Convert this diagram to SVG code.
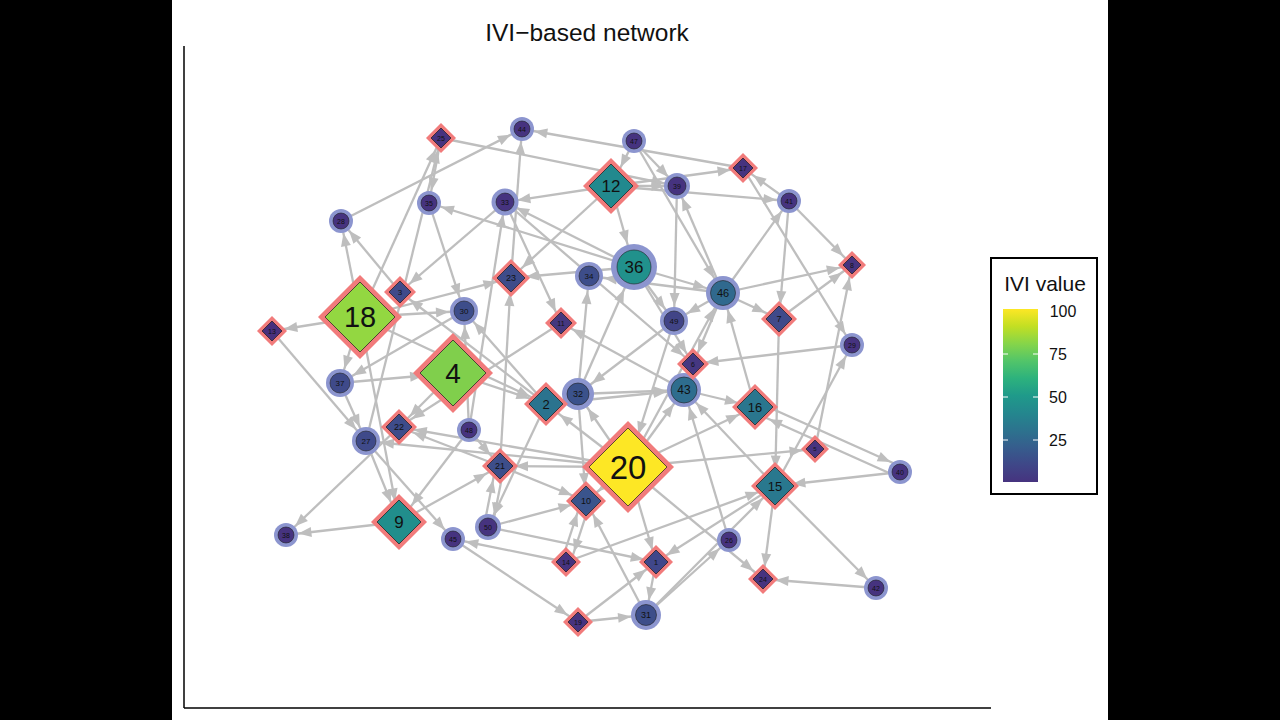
<svg xmlns="http://www.w3.org/2000/svg" width="1280" height="720" viewBox="0 0 1280 720">
<defs>
<style>
.e{stroke:#BEBEBE;stroke-width:2.3;fill:none}
.dout{fill:#F17B7B}
.din{stroke:#1a1a1a;stroke-width:0.7}
.halo{fill:#8C95CF}
.cin{stroke:#222;stroke-width:0.6}
text{font-family:"Liberation Sans",Arial,sans-serif;fill:#111;text-anchor:middle}
.ax{stroke:#000;stroke-width:1.5}
</style>
<marker id="a12" markerUnits="userSpaceOnUse" markerWidth="13" markerHeight="10" refX="25.5" refY="5" orient="auto" overflow="visible"><path d="M0,0 L13,5 L0,10 Z" fill="#BEBEBE"/></marker>
<marker id="a15" markerUnits="userSpaceOnUse" markerWidth="13" markerHeight="10" refX="28" refY="5" orient="auto" overflow="visible"><path d="M0,0 L13,5 L0,10 Z" fill="#BEBEBE"/></marker>
<marker id="a17" markerUnits="userSpaceOnUse" markerWidth="13" markerHeight="10" refX="30.5" refY="5" orient="auto" overflow="visible"><path d="M0,0 L13,5 L0,10 Z" fill="#BEBEBE"/></marker>
<marker id="a21" markerUnits="userSpaceOnUse" markerWidth="13" markerHeight="10" refX="34" refY="5" orient="auto" overflow="visible"><path d="M0,0 L13,5 L0,10 Z" fill="#BEBEBE"/></marker>
<marker id="a24" markerUnits="userSpaceOnUse" markerWidth="13" markerHeight="10" refX="37.5" refY="5" orient="auto" overflow="visible"><path d="M0,0 L13,5 L0,10 Z" fill="#BEBEBE"/></marker>
<marker id="a30" markerUnits="userSpaceOnUse" markerWidth="13" markerHeight="10" refX="43" refY="5" orient="auto" overflow="visible"><path d="M0,0 L13,5 L0,10 Z" fill="#BEBEBE"/></marker>
<marker id="a34" markerUnits="userSpaceOnUse" markerWidth="13" markerHeight="10" refX="47" refY="5" orient="auto" overflow="visible"><path d="M0,0 L13,5 L0,10 Z" fill="#BEBEBE"/></marker>
<linearGradient id="vir" x1="0" y1="1" x2="0" y2="0">
<stop offset="0" stop-color="#46337F"/>
<stop offset="0.1" stop-color="#3F4788"/>
<stop offset="0.2" stop-color="#365D8D"/>
<stop offset="0.3" stop-color="#2C738E"/>
<stop offset="0.4" stop-color="#24878E"/>
<stop offset="0.5" stop-color="#1F9A8A"/>
<stop offset="0.6" stop-color="#2DB27D"/>
<stop offset="0.7" stop-color="#52C569"/>
<stop offset="0.8" stop-color="#86D549"/>
<stop offset="0.9" stop-color="#C2DF23"/>
<stop offset="1" stop-color="#FDE725"/>
</linearGradient>
</defs>
<rect x="0" y="0" width="1280" height="720" fill="#000"/>
<rect x="172" y="0" width="936" height="720" fill="#fff"/>
<text x="587" y="41" font-size="24.5">IVI−based network</text>
<line class="ax" x1="184" y1="46" x2="184" y2="708"/>
<line class="ax" x1="184" y1="708" x2="991" y2="708"/>

<g id="edges">
<line class="e" x1="441" y1="138" x2="429" y2="203" marker-end="url(#a12)"/>
<line class="e" x1="441" y1="138" x2="677" y2="186" marker-end="url(#a12)"/>
<line class="e" x1="341" y1="221" x2="522" y2="129" marker-end="url(#a12)"/>
<line class="e" x1="360" y1="317" x2="441" y2="138" marker-end="url(#a12)"/>
<line class="e" x1="366" y1="441" x2="441" y2="138" marker-end="url(#a12)"/>
<line class="e" x1="360" y1="317" x2="341" y2="221" marker-end="url(#a12)"/>
<line class="e" x1="400" y1="292" x2="341" y2="221" marker-end="url(#a12)"/>
<line class="e" x1="634" y1="267" x2="429" y2="203" marker-end="url(#a12)"/>
<line class="e" x1="505" y1="202" x2="400" y2="292" marker-end="url(#a12)"/>
<line class="e" x1="546" y1="404" x2="400" y2="292" marker-end="url(#a12)"/>
<line class="e" x1="360" y1="317" x2="272" y2="331" marker-end="url(#a12)"/>
<line class="e" x1="272" y1="331" x2="366" y2="441" marker-end="url(#a15)"/>
<line class="e" x1="360" y1="317" x2="340" y2="383" marker-end="url(#a15)"/>
<line class="e" x1="464" y1="311" x2="340" y2="383" marker-end="url(#a15)"/>
<line class="e" x1="360" y1="317" x2="511" y2="278" marker-end="url(#a15)"/>
<line class="e" x1="360" y1="317" x2="464" y2="311" marker-end="url(#a15)"/>
<line class="e" x1="360" y1="317" x2="546" y2="404" marker-end="url(#a17)"/>
<line class="e" x1="360" y1="317" x2="399" y2="522" marker-end="url(#a21)"/>
<line class="e" x1="366" y1="441" x2="399" y2="522" marker-end="url(#a21)"/>
<line class="e" x1="366" y1="441" x2="453" y2="539" marker-end="url(#a12)"/>
<line class="e" x1="399" y1="427" x2="286" y2="535" marker-end="url(#a12)"/>
<line class="e" x1="399" y1="522" x2="286" y2="535" marker-end="url(#a12)"/>
<line class="e" x1="469" y1="430" x2="399" y2="522" marker-end="url(#a21)"/>
<line class="e" x1="453" y1="539" x2="578" y2="622" marker-end="url(#a12)"/>
<line class="e" x1="566" y1="562" x2="453" y2="539" marker-end="url(#a12)"/>
<line class="e" x1="453" y1="373" x2="399" y2="427" marker-end="url(#a15)"/>
<line class="e" x1="340" y1="383" x2="453" y2="373" marker-end="url(#a30)"/>
<line class="e" x1="340" y1="383" x2="366" y2="441" marker-end="url(#a15)"/>
<line class="e" x1="500" y1="466" x2="399" y2="427" marker-end="url(#a15)"/>
<line class="e" x1="561" y1="323" x2="399" y2="427" marker-end="url(#a15)"/>
<line class="e" x1="546" y1="404" x2="464" y2="311" marker-end="url(#a15)"/>
<line class="e" x1="469" y1="430" x2="464" y2="311" marker-end="url(#a15)"/>
<line class="e" x1="429" y1="203" x2="464" y2="311" marker-end="url(#a15)"/>
<line class="e" x1="743" y1="168" x2="522" y2="129" marker-end="url(#a12)"/>
<line class="e" x1="511" y1="278" x2="522" y2="129" marker-end="url(#a12)"/>
<line class="e" x1="500" y1="466" x2="511" y2="278" marker-end="url(#a15)"/>
<line class="e" x1="611" y1="186" x2="511" y2="278" marker-end="url(#a15)"/>
<line class="e" x1="611" y1="186" x2="505" y2="202" marker-end="url(#a12)"/>
<line class="e" x1="634" y1="141" x2="611" y2="186" marker-end="url(#a21)"/>
<line class="e" x1="634" y1="141" x2="677" y2="186" marker-end="url(#a12)"/>
<line class="e" x1="611" y1="186" x2="677" y2="186" marker-end="url(#a12)"/>
<line class="e" x1="611" y1="186" x2="743" y2="168" marker-end="url(#a12)"/>
<line class="e" x1="611" y1="186" x2="789" y2="201" marker-end="url(#a12)"/>
<line class="e" x1="611" y1="186" x2="634" y2="267" marker-end="url(#a24)"/>
<line class="e" x1="789" y1="201" x2="743" y2="168" marker-end="url(#a12)"/>
<line class="e" x1="743" y1="168" x2="852" y2="345" marker-end="url(#a12)"/>
<line class="e" x1="789" y1="201" x2="852" y2="265" marker-end="url(#a12)"/>
<line class="e" x1="789" y1="201" x2="779" y2="319" marker-end="url(#a15)"/>
<line class="e" x1="723" y1="293" x2="789" y2="201" marker-end="url(#a12)"/>
<line class="e" x1="723" y1="293" x2="852" y2="265" marker-end="url(#a12)"/>
<line class="e" x1="815" y1="449" x2="852" y2="265" marker-end="url(#a12)"/>
<line class="e" x1="779" y1="319" x2="852" y2="265" marker-end="url(#a12)"/>
<line class="e" x1="775" y1="486" x2="852" y2="345" marker-end="url(#a12)"/>
<line class="e" x1="852" y1="345" x2="693" y2="364" marker-end="url(#a12)"/>
<line class="e" x1="723" y1="293" x2="779" y2="319" marker-end="url(#a15)"/>
<line class="e" x1="723" y1="293" x2="677" y2="186" marker-end="url(#a12)"/>
<line class="e" x1="677" y1="186" x2="674" y2="321" marker-end="url(#a15)"/>
<line class="e" x1="723" y1="293" x2="693" y2="364" marker-end="url(#a12)"/>
<line class="e" x1="723" y1="293" x2="674" y2="321" marker-end="url(#a15)"/>
<line class="e" x1="723" y1="293" x2="589" y2="276" marker-end="url(#a15)"/>
<line class="e" x1="755" y1="407" x2="723" y2="293" marker-end="url(#a17)"/>
<line class="e" x1="634" y1="141" x2="723" y2="293" marker-end="url(#a17)"/>
<line class="e" x1="634" y1="267" x2="723" y2="293" marker-end="url(#a17)"/>
<line class="e" x1="674" y1="321" x2="578" y2="394" marker-end="url(#a17)"/>
<line class="e" x1="634" y1="267" x2="674" y2="321" marker-end="url(#a15)"/>
<line class="e" x1="628" y1="467" x2="684" y2="390" marker-end="url(#a17)"/>
<line class="e" x1="578" y1="394" x2="684" y2="390" marker-end="url(#a17)"/>
<line class="e" x1="729" y1="540" x2="684" y2="390" marker-end="url(#a17)"/>
<line class="e" x1="775" y1="486" x2="684" y2="390" marker-end="url(#a17)"/>
<line class="e" x1="684" y1="390" x2="755" y2="407" marker-end="url(#a17)"/>
<line class="e" x1="684" y1="390" x2="561" y2="323" marker-end="url(#a12)"/>
<line class="e" x1="505" y1="202" x2="693" y2="364" marker-end="url(#a12)"/>
<line class="e" x1="634" y1="267" x2="693" y2="364" marker-end="url(#a12)"/>
<line class="e" x1="628" y1="467" x2="546" y2="404" marker-end="url(#a17)"/>
<line class="e" x1="628" y1="467" x2="578" y2="394" marker-end="url(#a17)"/>
<line class="e" x1="628" y1="467" x2="723" y2="293" marker-end="url(#a17)"/>
<line class="e" x1="628" y1="467" x2="755" y2="407" marker-end="url(#a17)"/>
<line class="e" x1="757" y1="402" x2="902" y2="467" marker-end="url(#a12)"/>
<line class="e" x1="898" y1="477" x2="753" y2="412" marker-end="url(#a17)"/>
<line class="e" x1="900" y1="472" x2="775" y2="486" marker-end="url(#a17)"/>
<line class="e" x1="628" y1="467" x2="815" y2="449" marker-end="url(#a12)"/>
<line class="e" x1="628" y1="467" x2="656" y2="562" marker-end="url(#a12)"/>
<line class="e" x1="628" y1="467" x2="763" y2="579" marker-end="url(#a12)"/>
<line class="e" x1="628" y1="467" x2="500" y2="466" marker-end="url(#a15)"/>
<line class="e" x1="628" y1="467" x2="399" y2="427" marker-end="url(#a15)"/>
<line class="e" x1="628" y1="467" x2="586" y2="501" marker-end="url(#a15)"/>
<line class="e" x1="500" y1="466" x2="586" y2="501" marker-end="url(#a15)"/>
<line class="e" x1="562" y1="560" x2="582" y2="499" marker-end="url(#a15)"/>
<line class="e" x1="590" y1="503" x2="570" y2="564" marker-end="url(#a12)"/>
<line class="e" x1="646" y1="615" x2="586" y2="501" marker-end="url(#a15)"/>
<line class="e" x1="504" y1="467" x2="492" y2="528" marker-end="url(#a12)"/>
<line class="e" x1="484" y1="526" x2="496" y2="465" marker-end="url(#a15)"/>
<line class="e" x1="488" y1="527" x2="656" y2="562" marker-end="url(#a12)"/>
<line class="e" x1="488" y1="527" x2="586" y2="501" marker-end="url(#a15)"/>
<line class="e" x1="578" y1="394" x2="586" y2="501" marker-end="url(#a15)"/>
<line class="e" x1="656" y1="562" x2="646" y2="615" marker-end="url(#a15)"/>
<line class="e" x1="578" y1="622" x2="656" y2="562" marker-end="url(#a12)"/>
<line class="e" x1="775" y1="486" x2="656" y2="562" marker-end="url(#a12)"/>
<line class="e" x1="646" y1="615" x2="775" y2="486" marker-end="url(#a17)"/>
<line class="e" x1="646" y1="615" x2="729" y2="540" marker-end="url(#a12)"/>
<line class="e" x1="779" y1="319" x2="775" y2="486" marker-end="url(#a17)"/>
<line class="e" x1="775" y1="486" x2="763" y2="579" marker-end="url(#a12)"/>
<line class="e" x1="775" y1="486" x2="876" y2="588" marker-end="url(#a12)"/>
<line class="e" x1="876" y1="588" x2="763" y2="579" marker-end="url(#a12)"/>
<line class="e" x1="674" y1="321" x2="628" y2="467" marker-end="url(#a34)"/>
<line class="e" x1="578" y1="394" x2="634" y2="267" marker-end="url(#a24)"/>
<line class="e" x1="578" y1="394" x2="589" y2="276" marker-end="url(#a15)"/>
<line class="e" x1="634" y1="267" x2="511" y2="278" marker-end="url(#a15)"/>
<line class="e" x1="505" y1="202" x2="561" y2="323" marker-end="url(#a12)"/>
<line class="e" x1="634" y1="267" x2="505" y2="202" marker-end="url(#a12)"/>
<line class="e" x1="469" y1="430" x2="505" y2="202" marker-end="url(#a12)"/>
<line class="e" x1="578" y1="622" x2="646" y2="615" marker-end="url(#a15)"/>
<line class="e" x1="546" y1="404" x2="488" y2="527" marker-end="url(#a12)"/>
<line class="e" x1="469" y1="430" x2="500" y2="466" marker-end="url(#a15)"/>
<line class="e" x1="453" y1="373" x2="546" y2="404" marker-end="url(#a17)"/>
<line class="e" x1="628" y1="467" x2="366" y2="441" marker-end="url(#a15)"/>
<line class="e" x1="399" y1="522" x2="500" y2="466" marker-end="url(#a15)"/>
<line class="e" x1="566" y1="562" x2="775" y2="486" marker-end="url(#a17)"/>
<line class="e" x1="546" y1="404" x2="684" y2="390" marker-end="url(#a17)"/>
</g>

<g id="node-26" transform="translate(729,540)"><circle class="halo" r="12"/><circle class="cin" r="8" fill="#46337F"/><text font-size="7" y="2.5">26</text></g>
<g id="node-27" transform="translate(366,441)"><circle class="halo" r="14"/><circle class="cin" r="10" fill="#3F4A8A"/><text font-size="8" y="3">27</text></g>
<g id="node-28" transform="translate(341,221)"><circle class="halo" r="12"/><circle class="cin" r="8" fill="#46337F"/><text font-size="7" y="2.5">28</text></g>
<g id="node-29" transform="translate(852,345)"><circle class="halo" r="12"/><circle class="cin" r="8" fill="#46337F"/><text font-size="7" y="2.5">29</text></g>
<g id="node-30" transform="translate(464,311)"><circle class="halo" r="14"/><circle class="cin" r="10" fill="#3D4D8A"/><text font-size="8" y="3">30</text></g>
<g id="node-31" transform="translate(646,615)"><circle class="halo" r="15"/><circle class="cin" r="10.5" fill="#3D4E8A"/><text font-size="9" y="3">31</text></g>
<g id="node-32" transform="translate(578,394)"><circle class="halo" r="16"/><circle class="cin" r="11" fill="#3B528B"/><text font-size="9" y="3">32</text></g>
<g id="node-33" transform="translate(505,202)"><circle class="halo" r="13.5"/><circle class="cin" r="9" fill="#46337F"/><text font-size="7" y="2.5">33</text></g>
<g id="node-34" transform="translate(589,276)"><circle class="halo" r="14"/><circle class="cin" r="10" fill="#3D4D8A"/><text font-size="8" y="3">34</text></g>
<g id="node-35" transform="translate(429,203)"><circle class="halo" r="12"/><circle class="cin" r="8" fill="#46337F"/><text font-size="7" y="2.5">35</text></g>
<g id="node-36" transform="translate(634,267)"><circle class="halo" r="23"/><circle class="cin" r="17" fill="#21918C"/><text font-size="17" y="6">36</text></g>
<g id="node-37" transform="translate(340,383)"><circle class="halo" r="14"/><circle class="cin" r="10" fill="#3F4A8A"/><text font-size="8" y="3">37</text></g>
<g id="node-38" transform="translate(286,535)"><circle class="halo" r="12"/><circle class="cin" r="8" fill="#46337F"/><text font-size="7" y="2.5">38</text></g>
<g id="node-39" transform="translate(677,186)"><circle class="halo" r="13"/><circle class="cin" r="9" fill="#46337F"/><text font-size="7" y="2.5">39</text></g>
<g id="node-40" transform="translate(900,472)"><circle class="halo" r="12"/><circle class="cin" r="8" fill="#46337F"/><text font-size="7" y="2.5">40</text></g>
<g id="node-41" transform="translate(789,201)"><circle class="halo" r="12"/><circle class="cin" r="8" fill="#46337F"/><text font-size="7" y="2.5">41</text></g>
<g id="node-42" transform="translate(876,588)"><circle class="halo" r="12"/><circle class="cin" r="8" fill="#46337F"/><text font-size="7" y="2.5">42</text></g>
<g id="node-43" transform="translate(684,390)"><circle class="halo" r="17"/><circle class="cin" r="13" fill="#2E6D8E"/><text font-size="12" y="4">43</text></g>
<g id="node-44" transform="translate(522,129)"><circle class="halo" r="12"/><circle class="cin" r="8" fill="#46337F"/><text font-size="7" y="2.5">44</text></g>
<g id="node-45" transform="translate(453,539)"><circle class="halo" r="12"/><circle class="cin" r="8" fill="#46337F"/><text font-size="7" y="2.5">45</text></g>
<g id="node-46" transform="translate(723,293)"><circle class="halo" r="17"/><circle class="cin" r="12.5" fill="#30698E"/><text font-size="11" y="4">46</text></g>
<g id="node-47" transform="translate(634,141)"><circle class="halo" r="12"/><circle class="cin" r="8" fill="#46337F"/><text font-size="7" y="2.5">47</text></g>
<g id="node-48" transform="translate(469,430)"><circle class="halo" r="12"/><circle class="cin" r="8" fill="#46337F"/><text font-size="7" y="2.5">48</text></g>
<g id="node-49" transform="translate(674,321)"><circle class="halo" r="14"/><circle class="cin" r="10" fill="#414487"/><text font-size="8" y="3">49</text></g>
<g id="node-50" transform="translate(488,527)"><circle class="halo" r="13"/><circle class="cin" r="9" fill="#46337F"/><text font-size="7" y="2.5">50</text></g>

<g id="node-1" transform="translate(656,562)"><polygon class="dout" points="0,-17 17,0 0,17 -17,0"/><polygon class="din" fill="#40478A" points="0,-12 12,0 0,12 -12,0"/><text font-size="8" y="3">1</text></g>
<g id="node-2" transform="translate(546,404)"><polygon class="dout" points="0,-22 22,0 0,22 -22,0"/><polygon class="din" fill="#2B738E" points="0,-17 17,0 0,17 -17,0"/><text font-size="13" y="4.5">2</text></g>
<g id="node-3" transform="translate(400,292)"><polygon class="dout" points="0,-16 16,0 0,16 -16,0"/><polygon class="din" fill="#3F4A8A" points="0,-11 11,0 0,11 -11,0"/><text font-size="8" y="3">3</text></g>
<g id="node-4" transform="translate(453,373)"><polygon class="dout" points="0,-40 40,0 0,40 -40,0"/><polygon class="din" fill="#80CF4C" points="0,-33 33,0 0,33 -33,0"/><text font-size="28" y="10">4</text></g>
<g id="node-5" transform="translate(815,449)"><polygon class="dout" points="0,-14 14,0 0,14 -14,0"/><polygon class="din" fill="#46337F" points="0,-9 9,0 0,9 -9,0"/><text font-size="6" y="2">5</text></g>
<g id="node-6" transform="translate(693,364)"><polygon class="dout" points="0,-16 16,0 0,16 -16,0"/><polygon class="din" fill="#453781" points="0,-11 11,0 0,11 -11,0"/><text font-size="7" y="2.5">6</text></g>
<g id="node-7" transform="translate(779,319)"><polygon class="dout" points="0,-18 18,0 0,18 -18,0"/><polygon class="din" fill="#3F4A8A" points="0,-13 13,0 0,13 -13,0"/><text font-size="9" y="3">7</text></g>
<g id="node-8" transform="translate(852,265)"><polygon class="dout" points="0,-14 14,0 0,14 -14,0"/><polygon class="din" fill="#46337F" points="0,-9 9,0 0,9 -9,0"/><text font-size="7" y="2.5">8</text></g>
<g id="node-9" transform="translate(399,522)"><polygon class="dout" points="0,-28 28,0 0,28 -28,0"/><polygon class="din" fill="#218E8C" points="0,-22 22,0 0,22 -22,0"/><text font-size="17" y="6">9</text></g>
<g id="node-10" transform="translate(586,501)"><polygon class="dout" points="0,-20 20,0 0,20 -20,0"/><polygon class="din" fill="#3A548C" points="0,-15 15,0 0,15 -15,0"/><text font-size="9" y="3">10</text></g>
<g id="node-11" transform="translate(561,323)"><polygon class="dout" points="0,-16 16,0 0,16 -16,0"/><polygon class="din" fill="#45377F" points="0,-11 11,0 0,11 -11,0"/><text font-size="7" y="2.5">11</text></g>
<g id="node-12" transform="translate(611,186)"><polygon class="dout" points="0,-28 28,0 0,28 -28,0"/><polygon class="din" fill="#22898E" points="0,-22 22,0 0,22 -22,0"/><text font-size="17" y="6">12</text></g>
<g id="node-13" transform="translate(272,331)"><polygon class="dout" points="0,-15 15,0 0,15 -15,0"/><polygon class="din" fill="#472F7D" points="0,-10 10,0 0,10 -10,0"/><text font-size="7" y="2.5">13</text></g>
<g id="node-14" transform="translate(566,562)"><polygon class="dout" points="0,-15 15,0 0,15 -15,0"/><polygon class="din" fill="#46337F" points="0,-10 10,0 0,10 -10,0"/><text font-size="7" y="2.5">14</text></g>
<g id="node-15" transform="translate(775,486)"><polygon class="dout" points="0,-24 24,0 0,24 -24,0"/><polygon class="din" fill="#29788E" points="0,-19 19,0 0,19 -19,0"/><text font-size="13" y="4.5">15</text></g>
<g id="node-16" transform="translate(755,407)"><polygon class="dout" points="0,-23 23,0 0,23 -23,0"/><polygon class="din" fill="#2A768E" points="0,-18 18,0 0,18 -18,0"/><text font-size="13" y="4.5">16</text></g>
<g id="node-17" transform="translate(743,168)"><polygon class="dout" points="0,-15 15,0 0,15 -15,0"/><polygon class="din" fill="#46337F" points="0,-10 10,0 0,10 -10,0"/><text font-size="7" y="2.5">17</text></g>
<g id="node-18" transform="translate(360,317)"><polygon class="dout" points="0,-42 42,0 0,42 -42,0"/><polygon class="din" fill="#93D741" points="0,-35 35,0 0,35 -35,0"/><text font-size="29" y="10">18</text></g>
<g id="node-19" transform="translate(578,622)"><polygon class="dout" points="0,-15 15,0 0,15 -15,0"/><polygon class="din" fill="#46337F" points="0,-10 10,0 0,10 -10,0"/><text font-size="7" y="2.5">19</text></g>
<g id="node-20" transform="translate(628,467)"><polygon class="dout" points="0,-46 46,0 0,46 -46,0"/><polygon class="din" fill="#FDE725" points="0,-39 39,0 0,39 -39,0"/><text font-size="33" y="11.5">20</text></g>
<g id="node-21" transform="translate(500,466)"><polygon class="dout" points="0,-18 18,0 0,18 -18,0"/><polygon class="din" fill="#3D4E8A" points="0,-13 13,0 0,13 -13,0"/><text font-size="9" y="3">21</text></g>
<g id="node-22" transform="translate(399,427)"><polygon class="dout" points="0,-18 18,0 0,18 -18,0"/><polygon class="din" fill="#3E4C8A" points="0,-13 13,0 0,13 -13,0"/><text font-size="9" y="3">22</text></g>
<g id="node-23" transform="translate(511,278)"><polygon class="dout" points="0,-19 19,0 0,19 -19,0"/><polygon class="din" fill="#3E4C8A" points="0,-14 14,0 0,14 -14,0"/><text font-size="9" y="3">23</text></g>
<g id="node-24" transform="translate(763,579)"><polygon class="dout" points="0,-15 15,0 0,15 -15,0"/><polygon class="din" fill="#46337F" points="0,-10 10,0 0,10 -10,0"/><text font-size="7" y="2.5">24</text></g>
<g id="node-25" transform="translate(441,138)"><polygon class="dout" points="0,-15 15,0 0,15 -15,0"/><polygon class="din" fill="#46337F" points="0,-10 10,0 0,10 -10,0"/><text font-size="7" y="2.5">25</text></g>

<g id="legend">
<rect x="991" y="258" width="106" height="236" fill="#fff" stroke="#000" stroke-width="2"/>
<text x="1045" y="291" font-size="21">IVI value</text>
<rect x="1003" y="309" width="35" height="173" fill="url(#vir)"/>
<g stroke="#fff" stroke-width="1">
<line x1="1003" y1="354" x2="1008" y2="354"/><line x1="1033" y1="354" x2="1038" y2="354"/>
<line x1="1003" y1="397" x2="1008" y2="397"/><line x1="1033" y1="397" x2="1038" y2="397"/>
<line x1="1003" y1="440" x2="1008" y2="440"/><line x1="1033" y1="440" x2="1038" y2="440"/>
</g>
<g font-size="16">
<text x="1063" y="317">100</text>
<text x="1058" y="360">75</text>
<text x="1058" y="403">50</text>
<text x="1058" y="446">25</text>
</g>
</g>
</svg>
